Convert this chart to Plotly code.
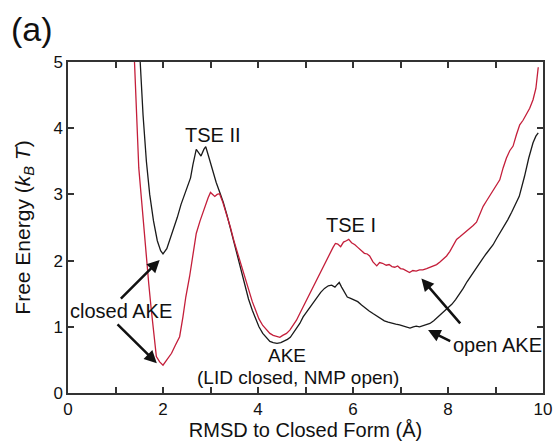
import plotly.graph_objects as go

# Black curve (RMSD, free energy)
black_x = [1.52, 1.58, 1.65, 1.72, 1.80, 1.88, 1.95, 2.00, 2.08, 2.15, 2.22, 2.30, 2.38, 2.45, 2.52, 2.58,
           2.63, 2.70, 2.76, 2.80, 2.86, 2.90, 2.97, 3.05, 3.12, 3.20, 3.27, 3.35, 3.42, 3.50, 3.57, 3.65,
           3.72, 3.80, 3.88, 3.95, 4.02, 4.10, 4.18, 4.25, 4.32, 4.40, 4.48, 4.55, 4.62, 4.68, 4.75, 4.82,
           4.88, 4.95, 5.02, 5.10, 5.16, 5.25, 5.32, 5.40, 5.48, 5.55, 5.62, 5.67, 5.71, 5.76, 5.82, 5.88,
           5.95, 6.02, 6.10, 6.18, 6.26, 6.34, 6.42, 6.50, 6.58, 6.66, 6.74, 6.82, 6.90, 6.98, 7.06, 7.14,
           7.20, 7.27, 7.33, 7.40, 7.48, 7.55, 7.62, 7.70, 7.76, 7.84, 7.92, 8.00, 8.08, 8.16, 8.24, 8.32,
           8.40, 8.48, 8.56, 8.64, 8.72, 8.80, 8.88, 8.95, 9.02, 9.10, 9.18, 9.26, 9.34, 9.42, 9.50, 9.61,
           9.70, 9.79, 9.85, 9.90]
black_y = [5.00, 4.20, 3.50, 3.00, 2.60, 2.30, 2.15, 2.10, 2.18, 2.32, 2.48, 2.65, 2.85, 3.00, 3.12, 3.25,
           3.45, 3.68, 3.62, 3.58, 3.68, 3.72, 3.55, 3.35, 3.18, 3.02, 2.88, 2.68, 2.48, 2.25, 2.05, 1.82,
           1.62, 1.42, 1.25, 1.12, 1.00, 0.90, 0.83, 0.78, 0.76, 0.75, 0.76, 0.78, 0.81, 0.84, 0.92, 0.98,
           1.05, 1.15, 1.22, 1.30, 1.36, 1.45, 1.52, 1.58, 1.62, 1.63, 1.60, 1.64, 1.67, 1.60, 1.52, 1.45,
           1.43, 1.41, 1.38, 1.33, 1.28, 1.24, 1.20, 1.16, 1.12, 1.09, 1.07, 1.05, 1.04, 1.03, 1.01, 0.99,
           0.98, 1.00, 1.01, 1.00, 1.02, 1.03, 1.05, 1.09, 1.13, 1.18, 1.23, 1.28, 1.34, 1.41, 1.49, 1.58,
           1.68, 1.77, 1.86, 1.94, 2.02, 2.10, 2.17, 2.24, 2.33, 2.42, 2.52, 2.62, 2.73, 2.84, 2.97, 3.27,
           3.55, 3.78, 3.88, 3.93]

# Red curve
red_x = [1.40, 1.45, 1.49, 1.55, 1.60, 1.65, 1.70, 1.75, 1.80, 1.86, 1.93, 2.00, 2.08, 2.18, 2.26, 2.35,
         2.42, 2.48, 2.56, 2.63, 2.70, 2.78, 2.88, 2.95, 3.00, 3.05, 3.09, 3.14, 3.19, 3.26, 3.33, 3.42,
         3.50, 3.55, 3.63, 3.72, 3.80, 3.88, 3.95, 4.02, 4.10, 4.18, 4.25, 4.32, 4.40, 4.46, 4.52, 4.60,
         4.67, 4.74, 4.81, 4.88, 4.95, 5.02, 5.09, 5.16, 5.23, 5.30, 5.37, 5.45, 5.52, 5.58, 5.63, 5.68,
         5.74, 5.80, 5.86, 5.91, 5.97, 6.04, 6.10, 6.17, 6.24, 6.30, 6.35, 6.42, 6.50, 6.56, 6.62, 6.70,
         6.76, 6.82, 6.88, 6.94, 7.00, 7.06, 7.12, 7.19, 7.26, 7.33, 7.40, 7.47, 7.55, 7.62, 7.69, 7.76,
         7.83, 7.90, 7.97, 8.04, 8.11, 8.18, 8.25, 8.32, 8.39, 8.46, 8.53, 8.60, 8.67, 8.74, 8.81, 8.88,
         8.95, 9.02, 9.09, 9.16, 9.23, 9.30, 9.37, 9.44, 9.51, 9.58, 9.65, 9.72, 9.79, 9.85, 9.90]
red_y = [5.00, 4.20, 3.40, 2.90, 2.45, 2.05, 1.65, 1.28, 0.92, 0.55, 0.47, 0.42, 0.50, 0.60, 0.72, 0.85,
         1.15, 1.45, 1.76, 2.10, 2.41, 2.60, 2.82, 2.95, 3.03, 2.99, 2.97, 3.00, 3.01, 2.88, 2.72, 2.50,
         2.28, 2.16, 1.98, 1.76, 1.55, 1.38, 1.25, 1.12, 1.02, 0.95, 0.90, 0.87, 0.85, 0.84, 0.87, 0.90,
         0.95, 1.02, 1.10, 1.20, 1.30, 1.40, 1.50, 1.61, 1.72, 1.82, 1.91, 2.03, 2.12, 2.20, 2.26, 2.25,
         2.21, 2.28, 2.30, 2.32, 2.27, 2.24, 2.20, 2.16, 2.11, 2.10, 2.07, 1.98, 1.92, 1.97, 1.96, 1.93,
         1.94, 1.91, 1.90, 1.92, 1.88, 1.87, 1.85, 1.82, 1.85, 1.84, 1.86, 1.86, 1.88, 1.90, 1.92, 1.94,
         1.98, 2.02, 2.07, 2.14, 2.22, 2.32, 2.36, 2.40, 2.44, 2.48, 2.53, 2.58, 2.70, 2.82, 2.90, 2.98,
         3.08, 3.14, 3.22, 3.40, 3.55, 3.66, 3.73, 3.90, 4.05, 4.12, 4.20, 4.30, 4.43, 4.60, 4.92]

x_tickvals = [0, 1, 2, 3, 4, 5, 6, 7, 8, 9, 10]
x_ticktext = ["0", "", "2", "", "4", "", "6", "", "8", "", "10"]
y_tickvals = [0, 1, 2, 3, 4, 5]
y_ticktext = ["0", "1", "2", "3", "4", "5"]

FONT = "Liberation Sans, Arial, Helvetica, sans-serif"
RED = "#c41e3a"
BLACK = "#1a1a1a"
INK = "#111111"

fig = go.Figure()
fig.add_trace(go.Scatter(x=black_x, y=black_y, mode="lines",
                         line=dict(color=BLACK, width=1.3), showlegend=False))
fig.add_trace(go.Scatter(x=red_x, y=red_y, mode="lines",
                         line=dict(color=RED, width=1.3), showlegend=False))

axis_common = dict(showline=True, linecolor="#333333", linewidth=1.5, mirror="ticks",
                   ticks="inside", ticklen=6, tickwidth=1.5, tickcolor="#333333",
                   showgrid=False, zeroline=False, automargin=False,
                   ticklabeloverflow="allow",
                   tickfont=dict(family=FONT, size=17, color=INK))

fig.update_xaxes(range=[0, 10], tickvals=x_tickvals, ticktext=x_ticktext,
                 title=dict(text="RMSD to Closed Form (Å)", font=dict(family=FONT, size=20, color=INK),
                            standoff=3),
                 **axis_common)
fig.update_yaxes(range=[0, 5], tickvals=y_tickvals, ticktext=y_ticktext,
                 title=dict(text="Free Energy (<i>k</i><sub><i>B</i></sub> <i>T</i>)",
                            font=dict(family=FONT, size=21, color=INK), standoff=17),
                 **axis_common)

labels = [
    ("TSE II", 3.05, 3.90, 20),
    ("TSE I", 5.95, 2.54, 20),
    ("AKE", 4.62, 0.56, 19),
    ("(LID closed, NMP open)", 4.84, 0.24, 19),
    ("closed AKE", 1.12, 1.24, 20),
    ("open AKE", 9.05, 0.72, 20),
]
for t, x, y, s in labels:
    fig.add_annotation(x=x, y=y, text=t, showarrow=False,
                       font=dict(family=FONT, size=s, color=INK),
                       xanchor="center", yanchor="middle")

arrows = [
    # head x, head y, tail x, tail y
    (1.93, 2.01, 1.05, 1.38),
    (1.87, 0.45, 0.98, 1.08),
    (7.58, 0.95, 8.11, 0.76),
    (7.44, 1.73, 8.32, 1.00),
]
for hx, hy, tx, ty in arrows:
    fig.add_annotation(x=hx, y=hy, ax=tx, ay=ty, axref="x", ayref="y", xref="x", yref="y",
                       text=" ", showarrow=True, arrowhead=2, arrowsize=1, arrowwidth=2.5,
                       arrowcolor=INK, standoff=0, startstandoff=0)

fig.add_annotation(text="(a)", xref="paper", yref="paper", x=-0.125, y=1.10,
                   xanchor="left", yanchor="middle", showarrow=False,
                   font=dict(family=FONT, size=34, color=INK))

fig.update_layout(width=553, height=441, margin=dict(l=68, r=10, t=62, b=48, autoexpand=False),
                  plot_bgcolor="white", paper_bgcolor="white",
                  font=dict(family=FONT, color=INK))

fig.write_html("out.html")
